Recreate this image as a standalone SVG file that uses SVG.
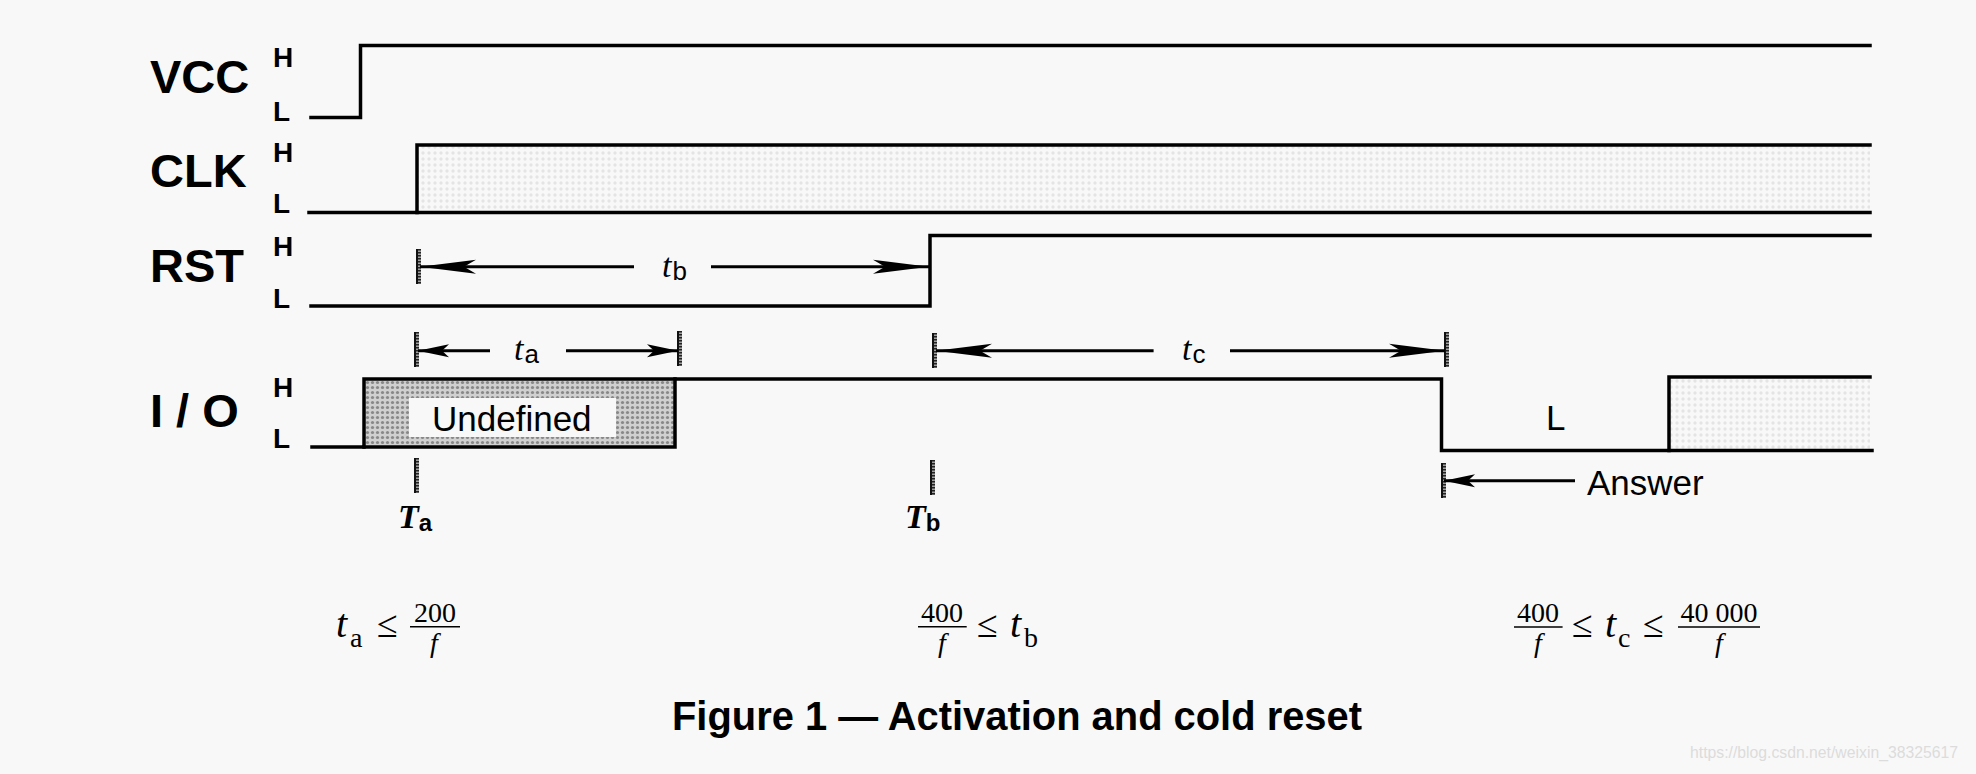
<svg xmlns="http://www.w3.org/2000/svg" xmlns:xlink="http://www.w3.org/1999/xlink" width="1976" height="774" viewBox="0 0 1976 774">
<style>
.sig{fill:none;stroke:#000;stroke-width:3.5;stroke-linejoin:miter;stroke-linecap:square}
.dim{fill:none;stroke:#000;stroke-width:3}
.lbl{font-family:"Liberation Sans",Arial,sans-serif;font-weight:bold;font-size:47px;fill:#000}
.hl{font-family:"Liberation Sans",Arial,sans-serif;font-weight:bold;font-size:28px;fill:#000}
.txt{font-family:"Liberation Sans",Arial,sans-serif;font-size:35px;fill:#000}
.ti{font-family:"Liberation Serif","Times New Roman",serif;font-style:italic;font-size:34px;fill:#000}
.ts{font-family:"Liberation Sans",Arial,sans-serif;font-size:26px;fill:#000}
.Tb{font-family:"Liberation Serif","Times New Roman",serif;font-style:italic;font-weight:bold;font-size:34px;fill:#000}
.Tsub{font-family:"Liberation Sans",Arial,sans-serif;font-weight:bold;font-size:24px;fill:#000}
.mi{font-family:"Liberation Serif","Times New Roman",serif;font-style:italic;font-size:40px;fill:#000}
.mr{font-family:"Liberation Serif","Times New Roman",serif;font-size:28px;fill:#000}
.mo{font-family:"Liberation Serif","Times New Roman",serif;font-size:38px;fill:#000}
.mf{font-family:"Liberation Serif","Times New Roman",serif;font-style:italic;font-size:28px;fill:#000}
.bar{stroke:#000;stroke-width:1.6}
.title{font-family:"Liberation Sans",Arial,sans-serif;font-weight:bold;font-size:40px;fill:#000}
.wm{font-family:"Liberation Sans",Arial,sans-serif;font-size:17px;fill:#dcdcdc}
</style>
<defs>
<pattern id="light" patternUnits="userSpaceOnUse" width="6" height="6">
<circle cx="3" cy="3" r="1.7" fill="#e4e4e4"/>
</pattern>
<pattern id="dense" patternUnits="userSpaceOnUse" width="5" height="5">
<rect width="5" height="5" fill="#d0d0d0"/>
<circle cx="2.5" cy="2.5" r="1.6" fill="#888"/>
</pattern>
<pattern id="hatch" patternUnits="userSpaceOnUse" width="5" height="3">
<rect width="5" height="3" fill="#a0a0a0"/>
<rect width="5" height="1.5" fill="#222"/>
</pattern>
<g id="tick">
<rect x="-2" y="0" width="5" height="35" fill="url(#hatch)"/>
<line x1="-1" y1="0" x2="-1" y2="35" stroke="#111" stroke-width="2"/>
</g>
<marker id="aL" markerUnits="userSpaceOnUse" viewBox="-58 -8 60 16" markerWidth="60" markerHeight="16" refX="0" refY="0" orient="auto">
<path d="M0,0 L-56,-7 L-44,0 L-56,7 Z" fill="#000"/>
</marker>
<marker id="aS" markerUnits="userSpaceOnUse" viewBox="-34 -8 36 16" markerWidth="36" markerHeight="16" refX="0" refY="0" orient="auto">
<path d="M0,0 L-31,-6.5 L-24,0 L-31,6.5 Z" fill="#000"/>
</marker>
</defs>
<rect width="1976" height="774" fill="#f8f8f8"/>

<g id="vcc">
<text class="lbl" x="150" y="92.5">VCC</text>
<text class="hl" x="273" y="67">H</text>
<text class="hl" x="273" y="121">L</text>
<path class="sig" d="M311,117.5 H360.5 V45.5 H1870"/>
</g>

<g id="clk">
<text class="lbl" x="150" y="187">CLK</text>
<text class="hl" x="273" y="161.5">H</text>
<text class="hl" x="273" y="213">L</text>
<rect x="417" y="145" width="1453" height="67.5" fill="url(#light)"/>
<path class="sig" d="M309,212.5 H417 V145 H1870"/>
<path class="sig" d="M417,212.5 H1870"/>
</g>

<g id="rst">
<text class="lbl" x="150" y="281.5">RST</text>
<text class="hl" x="273" y="256">H</text>
<text class="hl" x="273" y="308">L</text>
<path class="sig" d="M311,306 H930 V235.5 H1870"/>
</g>

<g id="io">
<text class="lbl" x="150" y="426.5">I / O</text>
<text class="hl" x="273" y="396.5">H</text>
<text class="hl" x="273" y="448">L</text>
<rect x="364" y="379" width="311" height="68" fill="url(#dense)"/>
<rect x="409" y="398" width="207" height="39" fill="#f8f8f8"/>
<text class="txt" x="432" y="431">Undefined</text>
<rect x="1669" y="377" width="201" height="73.5" fill="url(#light)"/>
<path class="sig" d="M312,447 H364 V379 H1441.5 V450.5 H1872"/>
<path class="sig" d="M675,379 V447 H364"/>
<path class="sig" d="M1669,450.5 V377 H1870"/>
<text class="txt" x="1546" y="430">L</text>
</g>

<g id="connectors">
<use xlink:href="#tick" x="418" y="249"/>
<path class="dim" d="M634,266.7 H420" marker-end="url(#aL)"/>
<path class="dim" d="M711,266.7 H929" marker-end="url(#aL)"/>

<use xlink:href="#tick" x="416" y="332"/>
<use xlink:href="#tick" x="679" y="331"/>
<path class="dim" d="M490,350.7 H418" marker-end="url(#aS)"/>
<path class="dim" d="M566,350.7 H678" marker-end="url(#aS)"/>

<use xlink:href="#tick" x="934" y="333"/>
<use xlink:href="#tick" x="1446" y="332"/>
<path class="dim" d="M1153.6,350.7 H936" marker-end="url(#aL)"/>
<path class="dim" d="M1230,350.7 H1445" marker-end="url(#aL)"/>

<use xlink:href="#tick" x="416" y="458"/>
<use xlink:href="#tick" x="932" y="460"/>
<use xlink:href="#tick" x="1443" y="463"/>
<path class="dim" d="M1575,480.7 H1444" marker-end="url(#aS)"/>
</g>

<g id="labels">
<text x="662" y="277"><tspan class="ti">t</tspan><tspan class="ts" dx="1" dy="3">b</tspan></text>
<text x="514" y="360"><tspan class="ti">t</tspan><tspan class="ts" dx="1" dy="3">a</tspan></text>
<text x="1182" y="360"><tspan class="ti">t</tspan><tspan class="ts" dx="1" dy="3">c</tspan></text>
<text class="txt" x="1587" y="495">Answer</text>
<text x="398" y="528"><tspan class="Tb">T</tspan><tspan class="Tsub" dx="0" dy="3">a</tspan></text>
<text x="905" y="528"><tspan class="Tb">T</tspan><tspan class="Tsub" dx="0" dy="3">b</tspan></text>
</g>

<g id="formulas">
<text class="mi" x="336" y="637">t</text>
<text class="mr" x="350" y="647">a</text>
<text class="mo" x="377" y="637">≤</text>
<text class="mr" x="435" y="622" text-anchor="middle">200</text>
<line class="bar" x1="410" y1="626.7" x2="460" y2="626.7"/>
<text class="mf" x="434" y="652" text-anchor="middle">f</text>

<text class="mr" x="942" y="622" text-anchor="middle">400</text>
<line class="bar" x1="918" y1="626.7" x2="966.7" y2="626.7"/>
<text class="mf" x="942" y="652" text-anchor="middle">f</text>
<text class="mo" x="977" y="637">≤</text>
<text class="mi" x="1010" y="637">t</text>
<text class="mr" x="1024" y="647">b</text>

<text class="mr" x="1538" y="622" text-anchor="middle">400</text>
<line class="bar" x1="1514" y1="627" x2="1562.6" y2="627"/>
<text class="mf" x="1538" y="652" text-anchor="middle">f</text>
<text class="mo" x="1572" y="637">≤</text>
<text class="mi" x="1605" y="637">t</text>
<text class="mr" x="1618" y="647">c</text>
<text class="mo" x="1643" y="637">≤</text>
<text class="mr" x="1719" y="622" text-anchor="middle">40 000</text>
<line class="bar" x1="1678" y1="627" x2="1760" y2="627"/>
<text class="mf" x="1719" y="652" text-anchor="middle">f</text>
</g>

<text class="title" x="672" y="730" textLength="690" lengthAdjust="spacingAndGlyphs">Figure 1 — Activation and cold reset</text>
<text class="wm" x="1690" y="758" textLength="268" lengthAdjust="spacingAndGlyphs">https://blog.csdn.net/weixin_38325617</text>
</svg>
